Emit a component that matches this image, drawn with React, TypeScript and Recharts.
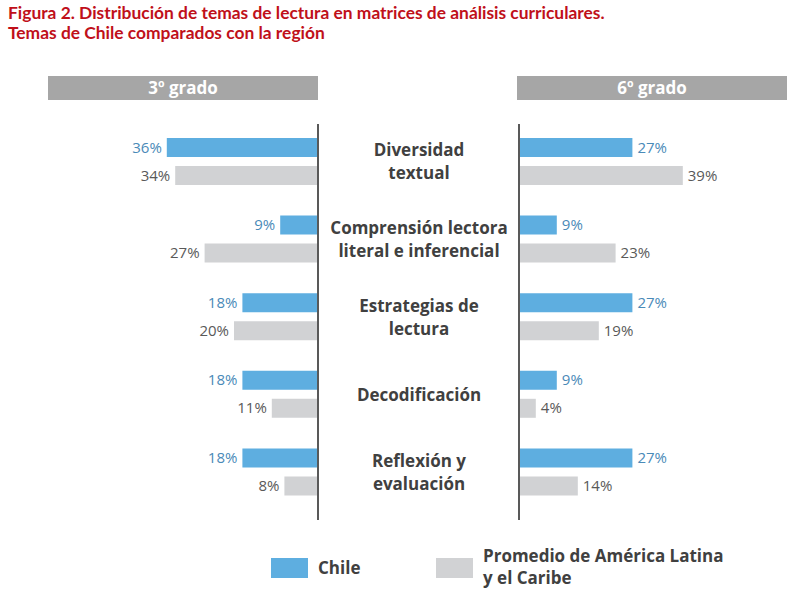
import React from 'react';
import { BarChart, Bar, XAxis, YAxis, LabelList } from 'recharts';

const categories = [
  'Diversidad\ntextual',
  'Comprensión lectora\nliteral e inferencial',
  'Estrategias de\nlectura',
  'Decodificación',
  'Reflexión y\nevaluación',
];
const chile3 = [36, 9, 18, 18, 18];
const region3 = [34, 27, 20, 11, 8];
const chile6 = [27, 9, 27, 9, 27];
const region6 = [39, 23, 19, 4, 14];

const data3 = categories.map((cat, i) => ({ cat, chile: chile3[i], region: region3[i] }));
const data6 = categories.map((cat, i) => ({ cat, chile: chile6[i], region: region6[i] }));

const BLUE = '#5eaee0';
const GRAY = '#d1d2d4';
const FONT = '"Open Sans", sans-serif';

const valueLabel = (side: 'left' | 'right', color: string) => (props: any) => {
  const { x, y, width, height, value } = props;
  const left = Math.min(x, x + width);
  const right = Math.max(x, x + width);
  const tx = side === 'left' ? left - 5 : right + 5;
  return (
    <text
      x={tx}
      y={y + height / 2}
      dy={5}
      textAnchor={side === 'left' ? 'end' : 'start'}
      fill={color}
      fontSize={15}
      fontFamily={FONT}
    >
      {value}%
    </text>
  );
};

const CategoryTick = (props: any) => {
  const { x, y, payload } = props;
  const lines: string[] = String(payload.value).split('\n');
  const cx = x - 100;
  const start = y - ((lines.length - 1) * 23) / 2;
  return (
    <text textAnchor="middle" fill="#404040" fontSize={17} fontWeight={700} fontFamily={FONT}>
      {lines.map((l, i) => (
        <tspan key={i} x={cx} y={start + i * 23 + 6}>
          {l}
        </tspan>
      ))}
    </text>
  );
};

const header: React.CSSProperties = {
  position: 'absolute',
  top: 76,
  width: 270,
  height: 24,
  background: '#a6a6a6',
  color: '#fff',
  fontFamily: FONT,
  fontWeight: 700,
  fontSize: 17,
  lineHeight: '24px',
  textAlign: 'center',
};

const axisLine: React.CSSProperties = {
  position: 'absolute',
  top: 124,
  height: 396,
  width: 2,
  background: '#595959',
};

const legendText: React.CSSProperties = {
  position: 'absolute',
  color: '#404040',
  fontFamily: FONT,
  fontWeight: 700,
  fontSize: 17,
  lineHeight: '22px',
};

export default function App() {
  return (
    <div style={{ position: 'absolute', left: 0, top: 0, width: 811, height: 603, background: '#fff', overflow: 'hidden' }}>
      <div
        style={{
          position: 'absolute',
          left: 8,
          top: 3,
          color: '#c0101a',
          fontFamily: 'Lato, sans-serif',
          fontWeight: 700,
          fontSize: 17.4,
          lineHeight: '20px',
          whiteSpace: 'nowrap',
        }}
      >
        Figura 2. Distribución de temas de lectura en matrices de análisis curriculares.
        <br />
        Temas de Chile comparados con la región
      </div>

      <div style={{ ...header, left: 48 }}>3º grado</div>
      <div style={{ ...header, left: 517 }}>6º grado</div>

      <div style={{ position: 'absolute', left: 0, top: 0 }}>
        <BarChart
          width={318}
          height={540}
          data={data3}
          layout="vertical"
          margin={{ top: 123, right: 0, bottom: 29, left: 150 }}
          barSize={19}
          barGap={9}
        >
          <XAxis type="number" domain={[0, 40]} reversed hide />
          <YAxis type="category" dataKey="cat" hide />
          <Bar dataKey="chile" fill={BLUE} isAnimationActive={false}>
            <LabelList dataKey="chile" content={valueLabel('left', '#4a8ab8')} />
          </Bar>
          <Bar dataKey="region" fill={GRAY} isAnimationActive={false}>
            <LabelList dataKey="region" content={valueLabel('left', '#595959')} />
          </Bar>
        </BarChart>
      </div>

      <div style={{ position: 'absolute', left: 318, top: 0 }}>
        <BarChart
          width={493}
          height={540}
          data={data6}
          layout="vertical"
          margin={{ top: 123, right: 124, bottom: 29, left: 0 }}
          barSize={19}
          barGap={9}
        >
          <XAxis type="number" domain={[0, 40]} hide />
          <YAxis
            type="category"
            dataKey="cat"
            width={201}
            axisLine={false}
            tickLine={false}
            tickSize={0}
            tickMargin={0}
            tick={<CategoryTick />}
          />
          <Bar dataKey="chile" fill={BLUE} isAnimationActive={false}>
            <LabelList dataKey="chile" content={valueLabel('right', '#4a8ab8')} />
          </Bar>
          <Bar dataKey="region" fill={GRAY} isAnimationActive={false}>
            <LabelList dataKey="region" content={valueLabel('right', '#595959')} />
          </Bar>
        </BarChart>
      </div>

      <div style={{ ...axisLine, left: 317 }} />
      <div style={{ ...axisLine, left: 518 }} />

      <div style={{ position: 'absolute', left: 271, top: 558, width: 37, height: 20, background: BLUE }} />
      <div style={{ ...legendText, left: 318, top: 557 }}>Chile</div>
      <div style={{ position: 'absolute', left: 436, top: 558, width: 37, height: 20, background: GRAY }} />
      <div style={{ ...legendText, left: 483, top: 545 }}>
        Promedio de América Latina
        <br />y el Caribe
      </div>
    </div>
  );
}
